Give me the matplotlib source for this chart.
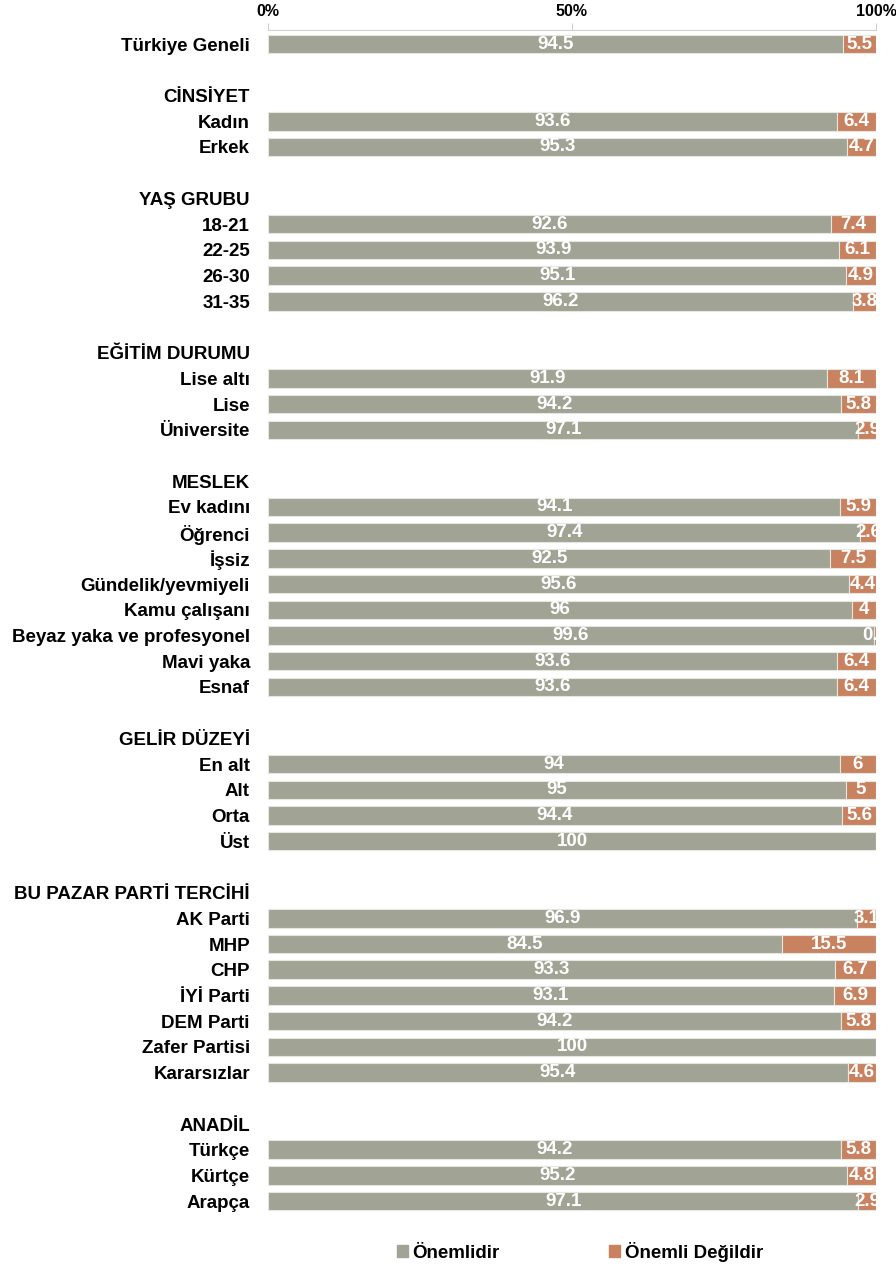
import numpy as np
import matplotlib.pyplot as plt
from matplotlib.patches import Patch

# ───────────────────────────── data ─────────────────────────────────────────── #
groups = ["", "CİNSİYET", "YAŞ GRUBU", "EĞİTİM DURUMU", "MESLEK",
          "GELİR DÜZEYİ", "BU PAZAR PARTİ TERCİHİ", "ANADİL"]

group_labels = [
    ["Türkiye Geneli"],
    ["Kadın", "Erkek"],
    ["18-21", "22-25", "26-30", "31-35"],
    ["Lise altı", "Lise", "Üniversite"],
    ["Ev kadını", "Öğrenci", "İşsiz", "Gündelik/yevmiyeli", "Kamu çalışanı",
     "Beyaz yaka ve profesyonel", "Mavi yaka", "Esnaf"],
    ["En alt", "Alt", "Orta", "Üst"],
    ["AK Parti", "MHP", "CHP", "İYİ Parti", "DEM Parti", "Zafer Partisi",
     "Kararsızlar"],
    ["Türkçe", "Kürtçe", "Arapça"],
]

onemli = [
    [94.5],
    [93.6, 95.3],
    [92.6, 93.9, 95.1, 96.2],
    [91.9, 94.2, 97.1],
    [94.1, 97.4, 92.5, 95.6, 96, 99.6, 93.6, 93.6],
    [94, 95, 94.4, 100],
    [96.9, 84.5, 93.3, 93.1, 94.2, 100, 95.4],
    [94.2, 95.2, 97.1],
]

onemli_degil = [
    [5.5],
    [6.4, 4.7],
    [7.4, 6.1, 4.9, 3.8],
    [8.1, 5.8, 2.9],
    [5.9, 2.6, 7.5, 4.4, 4, 0.4, 6.4, 6.4],
    [6, 5, 5.6, 0],
    [3.1, 15.5, 6.7, 6.9, 5.8, 0, 4.6],
    [5.8, 4.8, 2.9],
]

series_names = ["Önemlidir", "Önemli Değildir"]
GRAY = "#a1a394"
ORANGE = "#c9825f"

# ─────────────────────── flatten into chart rows ─────────────────────────── #
rows, vals_a, vals_b = [], [], []
for i, (g, labs, a, b) in enumerate(zip(groups, group_labels, onemli, onemli_degil)):
    if i > 0:
        rows.append("")          # spacer
        vals_a.append(np.nan)
        vals_b.append(np.nan)
        rows.append(g)           # header
        vals_a.append(np.nan)
        vals_b.append(np.nan)
    rows.extend(labs)
    vals_a.extend(a)
    vals_b.extend(b)

vals_a = np.array(vals_a, dtype=float)
vals_b = np.array(vals_b, dtype=float)
y = np.arange(len(rows))

# ─────────────────────────────── plot ──────────────────────────────────────── #
plt.rcParams["font.family"] = ["Liberation Sans", "DejaVu Sans"]
fig = plt.figure(figsize=(8.96, 12.7), dpi=100)
ax = fig.add_axes([268 / 896, 1 - 1214 / 1270, 608 / 896, (1214 - 30) / 1270])

bar_h = 0.72
ax.barh(y, vals_a, height=bar_h, color=GRAY, edgecolor="#e6e6e0", linewidth=0.8)
ax.barh(y, vals_b, left=vals_a, height=bar_h, color=ORANGE,
        edgecolor="#e6e6e0", linewidth=0.8)

label_font = dict(family=["Liberation Sans Narrow", "Liberation Sans", "DejaVu Sans"],
                  fontsize=13.5, fontweight="bold", color="white",
                  ha="center", va="center")
for yi, a, b in zip(y, vals_a, vals_b):
    if np.isnan(a):
        continue
    ax.text(a / 2, yi, f"{a:g}", clip_on=True, **label_font)
    if b > 0:
        ax.text(a + b / 2, yi, f"{b:g}", clip_on=True, **label_font)

ax.set_xlim(0, 100)
ax.set_ylim(len(rows) - 0.5, -0.55)
ax.set_yticks(y)
ax.set_yticklabels(rows, fontsize=13.5, fontweight="bold")
ax.tick_params(axis="y", length=0, pad=13)

ax.xaxis.tick_top()
ax.set_xticks([0, 50, 100])
ax.set_xticklabels(["0%", "50%", "100%"], fontsize=11.5, fontweight="bold")
ax.tick_params(axis="x", length=5, color="#d0d0d0", pad=3)

for s in ["left", "right", "bottom"]:
    ax.spines[s].set_visible(False)
ax.spines["top"].set_color("#d0d0d0")

handles = [Patch(color=GRAY), Patch(color=ORANGE)]
fig.legend(handles, series_names, loc="center", bbox_to_anchor=(0.647, 1 - 1252 / 1270),
           ncol=2, frameon=False, handlelength=0.6, handleheight=0.6,
           handletextpad=0.25, columnspacing=5.8,
           prop=dict(weight="bold", size=13.5))

fig.savefig("out.png", dpi=100)
